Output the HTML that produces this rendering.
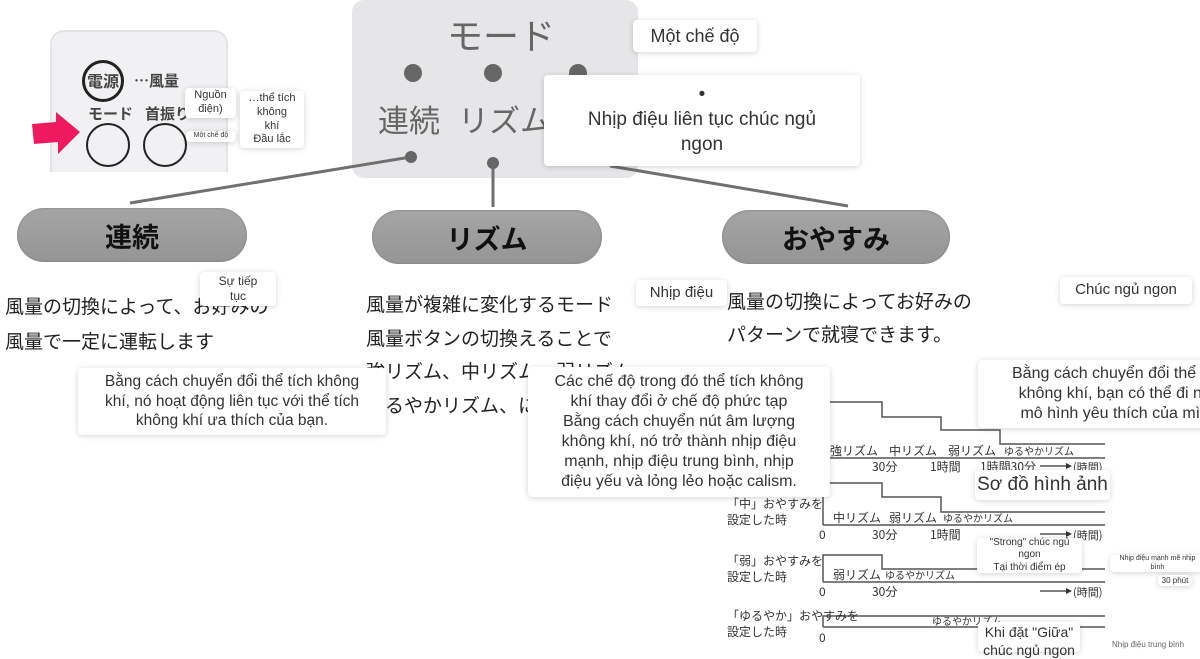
<!DOCTYPE html>
<html><head><meta charset="utf-8"><style>
*{margin:0;padding:0;box-sizing:border-box}
body{width:1200px;height:648px;overflow:hidden;background:#fff;position:relative;font-family:"Liberation Sans","Noto Sans CJK JP",sans-serif;color:#333}
.a{position:absolute}
.c{position:absolute;background:#fff;border-radius:4px;box-shadow:0 1px 6px rgba(0,0,0,.18);text-align:center;color:#333;display:flex;align-items:center;justify-content:center;line-height:1.25}
.jp{position:absolute;font-family:"Noto Sans CJK JP",sans-serif;color:#222;white-space:nowrap}
.pill{position:absolute;height:54px;border-radius:27px;background:linear-gradient(#a5a5a5,#959595);box-shadow:inset 0 0 2px #777;font-family:"Noto Sans CJK JP",sans-serif;font-weight:bold;font-size:27px;color:#111;display:flex;align-items:center;justify-content:center}
</style></head><body>
<!-- remote -->
<div class="a" style="left:50px;top:30px;width:178px;height:142px;background:#f1f1f3;border-radius:14px 14px 0 0;border:2px solid #e4e4e6;border-bottom:none"></div>
<div class="a" style="left:82px;top:60px;width:42px;height:42px;border:3px solid #222;border-radius:50%"></div>
<div class="jp" style="left:87px;top:68px;font-size:16px;font-weight:bold;color:#444">電源</div>
<div class="jp" style="left:134px;top:70px;font-size:15px;color:#444;font-weight:bold">…風量</div>
<div class="jp" style="left:88px;top:103px;font-size:15px;color:#444;font-weight:bold">モード</div>
<div class="jp" style="left:145px;top:103px;font-size:15px;color:#444;font-weight:bold">首振り</div>
<div class="a" style="left:86px;top:123px;width:44px;height:44px;border:2px solid #222;border-radius:50%"></div>
<div class="a" style="left:143px;top:123px;width:44px;height:44px;border:2px solid #222;border-radius:50%"></div>
<svg class="a" style="left:30px;top:112px" width="52" height="42"><polygon points="2,12 26,10 26,0 50,20 28,42 28,30 4,32" fill="#ee1a5d"/></svg>
<div class="c" style="left:185px;top:88px;width:51px;height:30px;font-size:11px">Nguồn<br>điện)</div>
<div class="c" style="left:186px;top:131px;width:50px;height:11px;font-size:7px">Một chế độ</div>
<div class="c" style="left:240px;top:91px;width:64px;height:57px;font-size:11px">…thể tích<br>không<br>khí<br>Đầu lắc</div>
<!-- mode panel -->
<div class="a" style="left:352px;top:0;width:286px;height:178px;background:#e6e6e8;border-radius:12px"></div>
<div class="jp" style="left:447px;top:8px;font-size:36px;color:#666">モード</div>
<div class="a" style="left:404px;top:64px;width:18px;height:18px;border-radius:50%;background:#666"></div>
<div class="a" style="left:484px;top:64px;width:18px;height:18px;border-radius:50%;background:#666"></div>
<div class="a" style="left:569px;top:64px;width:18px;height:18px;border-radius:50%;background:#666"></div>
<div class="jp" style="left:378px;top:96px;font-size:31px;color:#666">連続</div>
<div class="jp" style="left:458px;top:96px;font-size:31px;color:#666">リズム</div>
<svg class="a" style="left:0;top:0" width="1200" height="260">
<g stroke="#707070" stroke-width="3" fill="none"><line x1="411" y1="157" x2="130" y2="203"/><line x1="493" y1="163" x2="493" y2="207"/><line x1="610" y1="166" x2="848" y2="206"/></g>
<circle cx="411" cy="157" r="6" fill="#666"/><circle cx="493" cy="163" r="6" fill="#666"/></svg>
<div class="c" style="left:633px;top:20px;width:124px;height:32px;font-size:18px">Một chế độ</div>
<div class="c" style="left:544px;top:75px;width:316px;height:91px;font-size:19px;line-height:1.3">•<br>Nhịp điệu liên tục chúc ngủ<br>ngon</div>
<!-- pills -->
<div class="pill" style="left:17px;top:208px;width:230px">連続</div>
<div class="pill" style="left:372px;top:210px;width:230px">リズム</div>
<div class="pill" style="left:722px;top:210px;width:228px">おやすみ</div>
<!-- texts -->
<div class="jp" style="left:5px;top:292px;font-size:19px">風量の切換によって、お好みの</div>
<div class="jp" style="left:5px;top:327px;font-size:19px">風量で一定に運転します</div>
<div class="jp" style="left:366px;top:290px;font-size:19px">風量が複雑に変化するモード</div>
<div class="jp" style="left:366px;top:324px;font-size:19px">風量ボタンの切換えることで</div>
<div class="jp" style="left:366px;top:357px;font-size:19px">強リズム、中リズム、弱リズム</div>
<div class="jp" style="left:366px;top:391px;font-size:19px">ゆるやかリズム、になります</div>
<div class="jp" style="left:727px;top:287px;font-size:19px">風量の切換によってお好みの</div>
<div class="jp" style="left:727px;top:320px;font-size:19px">パターンで就寝できます。</div>
<!-- chart -->
<svg class="a" style="left:0;top:0" width="1200" height="648" font-family="Noto Sans CJK JP,sans-serif" font-size="12" fill="#333">
<g stroke="#555" stroke-width="1.5" fill="none">
<polyline points="828,380 828,395"/>
<polyline points="823,458 823,402 882,402 882,417 941,417 941,430 1000,430 1000,444 1105,444"/>
<line x1="823" y1="458" x2="1105" y2="458"/>
<polyline points="823,525 823,483 882,483 882,497 941,497 941,512 1105,512"/>
<line x1="823" y1="525" x2="1105" y2="525"/>
<polyline points="823,582 823,555 882,555 882,569 1105,569"/>
<line x1="823" y1="582" x2="1105" y2="582"/>
<polyline points="823,627 823,616 1105,616"/>
<line x1="823" y1="627" x2="1105" y2="627"/>
<line x1="1040" y1="466" x2="1066" y2="466"/><line x1="1040" y1="534" x2="1066" y2="534"/><line x1="1040" y1="591" x2="1066" y2="591"/>
</g>
<g fill="#333"><polygon points="1066,463 1072,466 1066,469"/><polygon points="1066,531 1072,534 1066,537"/><polygon points="1066,588 1072,591 1066,594"/></g>
<text x="830" y="455">強リズム</text><text x="889" y="455">中リズム</text><text x="948" y="455">弱リズム</text><text x="1004" y="455" font-size="10">ゆるやかリズム</text>
<text x="872" y="471">30分</text><text x="930" y="471">1時間</text><text x="980" y="471">1時間30分</text><text x="1073" y="471" font-size="11">(時間)</text>
<text x="727" y="508">「中」おやすみを</text><text x="727" y="524">設定した時</text>
<text x="833" y="522">中リズム</text><text x="889" y="522">弱リズム</text><text x="943" y="522" font-size="10">ゆるやかリズム</text>
<text x="819" y="539">0</text><text x="872" y="539">30分</text><text x="930" y="539">1時間</text><text x="1073" y="539" font-size="11">(時間)</text>
<text x="727" y="565">「弱」おやすみを</text><text x="727" y="581">設定した時</text>
<text x="833" y="579">弱リズム</text><text x="885" y="579" font-size="10">ゆるやかリズム</text>
<text x="819" y="596">0</text><text x="872" y="596">30分</text><text x="1073" y="596" font-size="11">(時間)</text>
<text x="727" y="620">「ゆるやか」おやすみを</text><text x="727" y="636">設定した時</text>
<text x="932" y="625" font-size="10">ゆるやかリズム</text><text x="819" y="642">0</text>
</svg>
<!-- cards -->
<div class="c" style="left:200px;top:272px;width:76px;height:34px;font-size:12px">Sự tiếp<br>tục</div>
<div class="c" style="left:636px;top:280px;width:91px;height:26px;font-size:15px">Nhịp điệu</div>
<div class="c" style="left:1060px;top:277px;width:132px;height:27px;font-size:15px">Chúc ngủ ngon</div>
<div class="c" style="left:78px;top:368px;width:308px;height:67px;font-size:15.5px">Bằng cách chuyển đổi thể tích không<br>khí, nó hoạt động liên tục với thể tích<br>không khí ưa thích của bạn.</div>
<div class="c" style="left:528px;top:367px;width:302px;height:130px;font-size:16px">Các chế độ trong đó thể tích không<br>khí thay đổi ở chế độ phức tạp<br>Bằng cách chuyển nút âm lượng<br>không khí, nó trở thành nhịp điệu<br>mạnh, nhịp điệu trung bình, nhịp<br>điệu yếu và lỏng lẻo hoặc calism.</div>
<div class="c" style="left:978px;top:360px;width:240px;height:68px;font-size:16px;justify-content:flex-start;padding-left:34px;white-space:nowrap;overflow:hidden"><div style="text-align:center">Bằng cách chuyển đổi thể tích<br>không khí, bạn có thể đi ngủ<br>mô hình yêu thích của mình</div></div>
<div class="c" style="left:975px;top:470px;width:135px;height:30px;font-size:19px">Sơ đồ hình ảnh</div>
<div class="c" style="left:977px;top:538px;width:105px;height:35px;font-size:10px">"Strong" chúc ngủ<br>ngon<br>Tại thời điểm ép</div>
<div class="c" style="left:1110px;top:555px;width:95px;height:17px;font-size:7px">Nhịp điệu mạnh mẽ nhịp<br>bình</div>
<div class="c" style="left:1158px;top:575px;width:34px;height:11px;font-size:8px">30 phút</div>
<div class="c" style="left:978px;top:622px;width:102px;height:30px;font-size:14px;align-items:flex-start;padding-top:2px">Khi đặt "Giữa"<br>chúc ngủ ngon</div>
<div class="a" style="left:1112px;top:640px;font-size:8px;color:#666">Nhịp điệu trung bình</div>
</body></html>
